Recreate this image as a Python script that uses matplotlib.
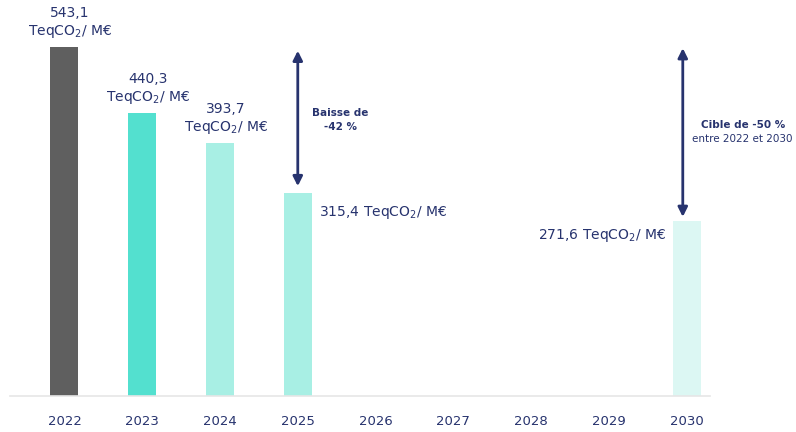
import matplotlib
matplotlib.use("Agg")
import matplotlib.pyplot as plt

plt.rcParams['font.family'] = ['DejaVu Sans']
plt.rcParams['mathtext.default'] = 'regular'

years = ["2022", "2023", "2024", "2025", "2026", "2027", "2028", "2029", "2030"]
values = [543.1, 440.3, 393.7, 315.4, None, None, None, None, 271.6]
value_labels = ["543,1", "440,3", "393,7", "315,4", "", "", "", "", "271,6"]
colors = ["#5f5f5f", "#53e0cf", "#a8efe4", "#a8efe4", None, None, None, None, "#dcf7f3"]

navy = "#27336e"
unit = r"TeqCO$_2$/ M€"

fig = plt.figure(figsize=(7.96, 4.32), dpi=100)
ax = fig.add_axes([10/796, 36/432, 700/796, 396/432])
ax.set_xlim(-0.7, 8.3)
ax.set_ylim(0, 616)

for i, (v, c) in enumerate(zip(values, colors)):
    if v is not None:
        ax.bar(i, v, width=0.36, color=c, zorder=2)

for s in ["top", "right", "left"]:
    ax.spines[s].set_visible(False)
ax.spines["bottom"].set_color("#e6e6e6")
ax.spines["bottom"].set_linewidth(1.2)
ax.set_yticks([])
ax.set_xticks(range(len(years)))
ax.set_xticklabels(years, color=navy, fontsize=9.5)
ax.tick_params(axis="x", length=0, pad=14)

# Labels above bars (2022-2024)
for i in range(3):
    ax.annotate(value_labels[i] + "\n" + unit, (i, values[i]), xytext=(4, 5),
                textcoords="offset points", ha="center", va="bottom",
                color=navy, fontsize=10, linespacing=1.25)
# 2025 to the right
ax.annotate(value_labels[3] + " " + unit, (3 + 0.18, values[3]), xytext=(5, -14),
            textcoords="offset points", ha="left", va="center", color=navy, fontsize=10)
# 2030 to the left
ax.annotate(value_labels[8] + " " + unit, (8 - 0.18, values[8]), xytext=(-5, -10),
            textcoords="offset points", ha="right", va="center", color=navy, fontsize=10)

arrow_kw = dict(arrowstyle="<|-|>", color=navy, lw=2, mutation_scale=14, shrinkA=0, shrinkB=0)
ax.annotate("", xy=(3, values[3] + 11), xytext=(3, values[0] - 6), arrowprops=arrow_kw,
            annotation_clip=False)
ax.annotate("", xy=(7.95, values[8] + 7), xytext=(7.95, values[0] - 2), arrowprops=arrow_kw,
            annotation_clip=False)

ax.text(3.55, 430, "Baisse de\n-42 %", ha="center", va="center", color=navy,
        fontsize=7.5, fontweight="bold", linespacing=1.5)
ax.text(8.72, 422, "Cible de -50 %", ha="center", va="center", color=navy,
        fontsize=7.5, fontweight="bold", clip_on=False)
ax.text(8.71, 400, "entre 2022 et 2030", ha="center", va="center", color=navy,
        fontsize=7.5, clip_on=False)

fig.savefig("out.png", dpi=100)
